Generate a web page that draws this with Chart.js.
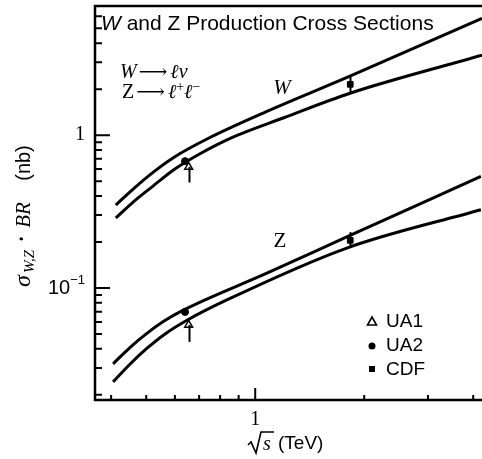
<!DOCTYPE html>
<html>
<head>
<meta charset="utf-8">
<script src="https://cdn.jsdelivr.net/npm/chart.js@4/dist/chart.umd.min.js"></script>
<style>
  html, body { margin: 0; padding: 0; background: #fff; }
  #wrap { width: 482px; height: 459px; }
</style>
</head>
<body>
<div id="wrap"><canvas id="myChart" width="482" height="459"></canvas></div>
<script>
// theory curves, sqrt(s) in TeV vs sigma*BR in nb
const wUpperX = [0.412, 0.46, 0.52, 0.6, 0.736, 1.077, 1.827, 4.23];
const wUpperY = [0.349, 0.444, 0.567, 0.723, 0.944, 1.43, 2.43, 5.82];
const wLowerX = [0.412, 0.46, 0.52, 0.6, 0.7, 0.868, 1.2, 1.827, 4.23];
const wLowerY = [0.287, 0.365, 0.461, 0.6, 0.75, 0.97, 1.3, 1.88, 3.33];
const zUpperX = [0.405, 0.45, 0.5, 0.56, 0.631, 1.077, 1.79, 4.2];
const zUpperY = [0.0319, 0.0406, 0.0501, 0.0608, 0.0714, 0.125, 0.216, 0.537];
const zLowerX = [0.405, 0.45, 0.5, 0.56, 0.648, 0.835, 1.79, 4.2];
const zLowerY = [0.0243, 0.0316, 0.0399, 0.0495, 0.0615, 0.0835, 0.1825, 0.325];

// measurements: W then Z
const ua1X = [0.655, 0.655];
const ua1Y = [0.62, 0.0573];
const ua1Lo = [0.49, 0.0444];
const ua1Hi = [0.62, 0.0573];
const ua2X = [0.64, 0.64];
const ua2Y = [0.676, 0.0697];
const cdfX = [1.83, 1.83];
const cdfY = [2.15, 0.205];
const cdfLo = [1.92, 0.183];
const cdfHi = [2.4, 0.232];

// axis ticks
const xMinorTicks = [0.4, 0.5, 0.6, 0.7, 0.8, 0.9, 2, 3, 4];
const xMajorTicks = [1];
const yMinorTicks = [0.02, 0.03, 0.04, 0.05, 0.06, 0.07, 0.08, 0.09,
  0.2, 0.3, 0.4, 0.5, 0.6, 0.7, 0.8, 0.9, 2, 3, 4, 5, 6];
const yMajorTicks = [0.1, 1];

const pts = (xs, ys) => xs.map((x, i) => ({ x: x, y: ys[i] }));

const curve = (xs, ys) => ({
  type: 'line',
  data: pts(xs, ys),
  borderColor: '#000',
  borderWidth: 3,
  pointRadius: 0,
  cubicInterpolationMode: 'monotone',
  fill: false
});

const sans = '"Liberation Sans", Arial, sans-serif';
const serif = '"Liberation Serif", "Times New Roman", serif';

const axesPlugin = {
  id: 'axesPlugin',
  afterDatasetsDraw(chart) {
    const ctx = chart.ctx;
    const xs = chart.scales.x, ys = chart.scales.y;
    const a = chart.chartArea;
    ctx.save();
    ctx.strokeStyle = '#000';
    ctx.fillStyle = '#000';

    // error bars
    ctx.lineWidth = 2;
    const bar = (x, lo, hi) => {
      const px = Math.round(xs.getPixelForValue(x)) + 0.5;
      ctx.beginPath();
      ctx.moveTo(px, ys.getPixelForValue(lo));
      ctx.lineTo(px, ys.getPixelForValue(hi));
      ctx.stroke();
    };
    ua1X.forEach((x, i) => bar(x, ua1Lo[i], ua1Hi[i]));
    cdfX.forEach((x, i) => bar(x, cdfLo[i], cdfHi[i]));

    // frame
    ctx.lineWidth = 2.5;
    ctx.beginPath();
    ctx.moveTo(a.right, a.top);
    ctx.lineTo(a.left, a.top);
    ctx.lineTo(a.left, a.bottom);
    ctx.lineTo(a.right, a.bottom);
    ctx.stroke();

    // inward ticks
    ctx.lineWidth = 2;
    ctx.beginPath();
    xMinorTicks.forEach(v => {
      const px = xs.getPixelForValue(v);
      ctx.moveTo(px, a.bottom); ctx.lineTo(px, a.bottom - 5);
    });
    xMajorTicks.forEach(v => {
      const px = xs.getPixelForValue(v);
      ctx.moveTo(px, a.bottom); ctx.lineTo(px, a.bottom - 12);
    });
    yMinorTicks.forEach(v => {
      const py = ys.getPixelForValue(v);
      ctx.moveTo(a.left, py); ctx.lineTo(a.left + 7, py);
    });
    yMajorTicks.forEach(v => {
      const py = ys.getPixelForValue(v);
      ctx.moveTo(a.left, py); ctx.lineTo(a.left + 15, py);
    });
    ctx.stroke();

    // tick labels
    ctx.textBaseline = 'middle';
    ctx.textAlign = 'center';
    ctx.font = '20px ' + serif;
    ctx.fillText('1', xs.getPixelForValue(1), a.bottom + 20);
    ctx.textAlign = 'right';
    ctx.fillText('1', a.left - 10, ys.getPixelForValue(1));
    const y01 = ys.getPixelForValue(0.1);
    ctx.font = '13px ' + sans;
    ctx.fillText('\u22121', a.left - 10, y01 - 8);
    const supW = ctx.measureText('\u22121').width;
    ctx.font = '20px ' + sans;
    ctx.fillText('10', a.left - 10 - supW, y01);

    // x axis title
    ctx.textAlign = 'left';
    const ty = 444;
    ctx.beginPath();
    ctx.lineWidth = 1.6;
    ctx.moveTo(248, ty + 1);
    ctx.lineTo(251, ty - 2);
    ctx.lineTo(256, ty + 9);
    ctx.lineTo(261, ty - 12);
    ctx.lineTo(274, ty - 12);
    ctx.stroke();
    ctx.font = 'italic 20px ' + serif;
    ctx.fillText('s', 263, ty + 1);
    ctx.font = '19px ' + sans;
    ctx.fillText('(TeV)', 278, ty);

    // y axis title, laid out along the rotated axis
    ctx.save();
    ctx.translate(24, 0);
    ctx.rotate(-Math.PI / 2);
    ctx.textAlign = 'left';
    ctx.font = 'italic 24px ' + serif;
    ctx.fillText('\u03c3', -287, 0);
    ctx.font = 'italic 15px ' + serif;
    ctx.fillText('W,Z', -273, 6);
    ctx.font = 'bold 20px ' + serif;
    ctx.textAlign = 'center';
    ctx.fillText('\u00b7', -239, -1);
    ctx.font = 'italic 21px ' + serif;
    ctx.fillText('BR', -215, 0);
    ctx.font = '20px ' + sans;
    ctx.fillText('(nb)', -163, 0);
    ctx.restore();

    // title inside the frame
    ctx.textAlign = 'left';
    ctx.font = 'italic 21px ' + sans;
    ctx.fillText('W', 101, 24);
    const ww = ctx.measureText('W').width;
    ctx.font = '21px ' + sans;
    ctx.fillText(' and Z Production Cross Sections', 101 + ww, 24);

    // decay channels
    const line = (x, y, items) => {
      items.forEach(it => {
        ctx.font = it[0];
        ctx.fillText(it[1], x, y + (it[2] || 0));
        x += ctx.measureText(it[1]).width + (it[3] || 0);
      });
    };
    line(120, 73, [
      ['italic 20px ' + serif, 'W', 0, 2],
      ['20px "DejaVu Serif", serif', '\u27f6', 0, 3],
      ['italic 20px ' + serif, '\u2113\u03bd']
    ]);
    line(122, 93, [
      ['20px ' + serif, 'Z', 0, 2],
      ['20px "DejaVu Serif", serif', '\u27f6', 0, 3],
      ['italic 20px ' + serif, '\u2113'],
      ['14px ' + serif, '+', -6],
      ['italic 20px ' + serif, '\u2113'],
      ['14px ' + serif, '\u2212', -6]
    ]);

    // curve labels
    ctx.textAlign = 'center';
    ctx.font = 'italic 21px ' + serif;
    ctx.fillText('W', 282, 88);
    ctx.font = '21px ' + serif;
    ctx.fillText('Z', 280, 241);

    // legend
    ctx.textAlign = 'left';
    ctx.font = '19px ' + sans;
    const lx = 372;
    ctx.lineWidth = 1.6;
    ctx.beginPath();
    ctx.moveTo(lx, 317); ctx.lineTo(lx + 4.5, 325); ctx.lineTo(lx - 4.5, 325); ctx.closePath();
    ctx.stroke();
    ctx.fillText('UA1', 386, 322);
    ctx.beginPath();
    ctx.arc(lx, 346, 3.5, 0, Math.PI * 2);
    ctx.fill();
    ctx.fillText('UA2', 386, 346);
    ctx.fillRect(lx - 3, 366, 6, 6);
    ctx.fillText('CDF', 386, 370);

    ctx.restore();
  }
};

const ctx = document.getElementById('myChart');

new Chart(ctx, {
  type: 'scatter',
  data: {
    datasets: [
      curve(wUpperX, wUpperY),
      curve(wLowerX, wLowerY),
      curve(zUpperX, zUpperY),
      curve(zLowerX, zLowerY),
      {
        label: 'UA1',
        data: pts(ua1X, ua1Y),
        pointStyle: 'triangle',
        pointRadius: 4.5,
        backgroundColor: '#fff',
        borderColor: '#000',
        borderWidth: 1.5
      },
      {
        label: 'UA2',
        data: pts(ua2X, ua2Y),
        pointStyle: 'circle',
        pointRadius: 3.5,
        backgroundColor: '#000',
        borderColor: '#000'
      },
      {
        label: 'CDF',
        data: pts(cdfX, cdfY),
        pointStyle: 'rect',
        pointRadius: 4,
        backgroundColor: '#000',
        borderColor: '#000'
      }
    ]
  },
  options: {
    responsive: false,
    animation: false,
    layout: { autoPadding: false, padding: { left: 95, top: 6, right: 0, bottom: 59 } },
    plugins: {
      legend: { display: false },
      tooltip: { enabled: false }
    },
    scales: {
      x: { type: 'logarithmic', min: 0.361, max: 4.23, display: false },
      y: { type: 'logarithmic', min: 0.0185, max: 7, display: false }
    }
  },
  plugins: [axesPlugin]
});
</script>
</body>
</html>
